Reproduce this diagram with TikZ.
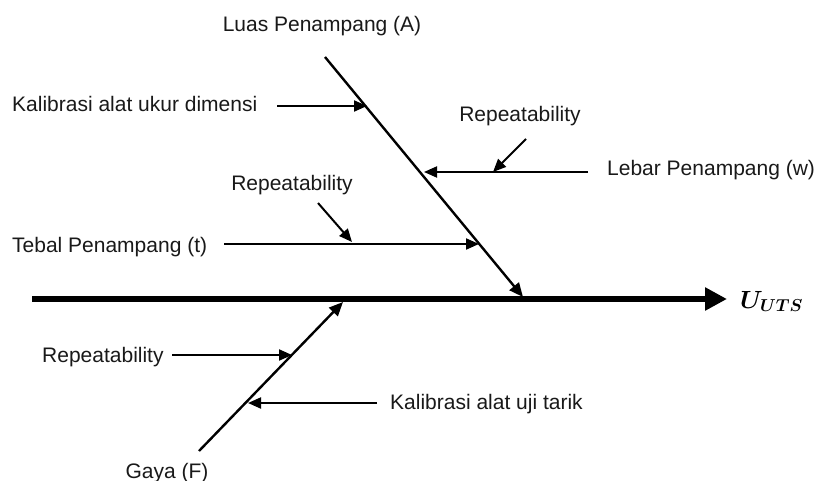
\documentclass[tikz,border=0pt]{standalone}
\usepackage{fontspec}
\setmainfont{Liberation Sans}
\usepackage{bm}
\usetikzlibrary{arrows.meta}
\begin{document}
\begin{tikzpicture}[x=1pt,y=-1pt,
  lbl/.style={font=\fontsize{21}{25}\selectfont, inner sep=0pt, text=black!90},
  cause/.style={line width=2pt,-{Triangle[length=13pt,width=11pt]}},
  bone/.style={line width=2.4pt,-{Triangle[length=14pt,width=12pt]}},
  spine/.style={line width=6pt,-{Triangle[length=22pt,width=22pt]}}]
\useasboundingbox (0,0) rectangle (816,481);
% labels
\node[lbl,anchor=base] (luas) at (322,32) {Luas Penampang (A)};
\node[lbl,anchor=base west] (kal) at (12,112) {Kalibrasi alat ukur dimensi};
\node[lbl,anchor=base] (rep1) at (520,122) {Repeatability};
\node[lbl,anchor=base west] (lebar) at (607,176) {Lebar Penampang (w)};
\node[lbl,anchor=base] (rep2) at (292,190) {Repeatability};
\node[lbl,anchor=base west] (tebal) at (12,252) {Tebal Penampang (t)};
\node[lbl,anchor=base west] (rep3) at (42,362) {Repeatability};
\node[lbl,anchor=base west] (kut) at (390,409) {Kalibrasi alat uji tarik};
\node[lbl,anchor=base] (gaya) at (167,478) {Gaya (F)};
\node[anchor=base west, font=\fontsize{23}{26}\selectfont, inner sep=0pt] (uuts) at (740,308) {$\bm{U_{UTS}}$};
% spine
\coordinate (s0) at (32,299);
\coordinate (s1) at (727,299);
\draw[spine] (s0) -- (s1);
% upper bone
\coordinate (ua) at (325,57);
\coordinate (ub) at (523,297);
\draw[bone] (ua) -- (ub);
% lower bone
\coordinate (la) at (199,451);
\coordinate (lb) at (343,302);
\draw[bone] (la) -- (lb);
% upper causes
\coordinate (k0) at (277,106);
\coordinate (k1) at (367,106);
\draw[cause] (k0) -- (k1);
\coordinate (w0) at (588,172);
\coordinate (w1) at (424,172);
\draw[cause] (w0) -- (w1);
\coordinate (r10) at (526,139);
\coordinate (r11) at (493,172);
\draw[cause] (r10) -- (r11);
\coordinate (t0) at (224,244);
\coordinate (t1) at (479,244);
\draw[cause] (t0) -- (t1);
\coordinate (r20) at (318,203);
\coordinate (r21) at (352,242);
\draw[cause] (r20) -- (r21);
% lower causes
\coordinate (r30) at (172,355);
\coordinate (r31) at (292,355);
\draw[cause] (r30) -- (r31);
\coordinate (u0) at (377,403);
\coordinate (u1) at (248,403);
\draw[cause] (u0) -- (u1);
\end{tikzpicture}
\end{document}
